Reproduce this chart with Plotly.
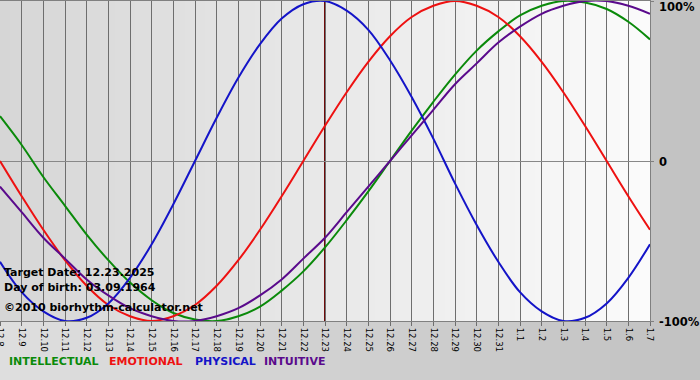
import plotly.graph_objects as go

# ---- data ----
dates = ["12.8", "12.9", "12.10", "12.11", "12.12", "12.13", "12.14", "12.15",
         "12.16", "12.17", "12.18", "12.19", "12.20", "12.21", "12.22", "12.23",
         "12.24", "12.25", "12.26", "12.27", "12.28", "12.29", "12.30", "12.31",
         "1.1", "1.2", "1.3", "1.4", "1.5", "1.6", "1.7"]

intellectual = [0.28, 0.10, -0.10, -0.28, -0.46, -0.62, -0.76, -0.87, -0.95, -0.99,
                -1.00, -0.97, -0.91, -0.81, -0.69, -0.54, -0.37, -0.19, 0.00, 0.19,
                0.37, 0.54, 0.69, 0.81, 0.91, 0.97, 1.00, 0.99, 0.95, 0.87, 0.76]

emotional = [0.00, -0.22, -0.43, -0.62, -0.78, -0.90, -0.97, -1.00, -0.97, -0.90,
             -0.78, -0.62, -0.43, -0.22, 0.00, 0.22, 0.43, 0.62, 0.78, 0.90,
             0.97, 1.00, 0.97, 0.90, 0.78, 0.62, 0.43, 0.22, 0.00, -0.22, -0.43]

physical = [-0.63, -0.82, -0.94, -1.00, -0.98, -0.89, -0.73, -0.52, -0.27, 0.00,
            0.27, 0.52, 0.73, 0.89, 0.98, 1.00, 0.94, 0.82, 0.63, 0.40,
            0.14, -0.14, -0.40, -0.63, -0.82, -0.94, -1.00, -0.98, -0.89, -0.73, -0.52]

intuitive = [-0.16, -0.32, -0.48, -0.61, -0.74, -0.84, -0.92, -0.97, -1.00, -1.00,
             -0.97, -0.92, -0.84, -0.74, -0.61, -0.48, -0.32, -0.16, 0.00, 0.16,
             0.32, 0.48, 0.61, 0.74, 0.84, 0.92, 0.97, 1.00, 1.00, 0.97, 0.92]

series_names = ["INTELLECTUAL", "EMOTIONAL", "PHYSICAL", "INTUITIVE"]
series_colors = ["#0a8a0a", "#ee1111", "#1414c8", "#5a0a8c"]
target_label = "12.23"
info_lines = ["Target Date: 12.23.2025", "Day of birth: 03.09.1964",
              "\u00a92010 biorhythm-calculator.net"]
y_labels = ["100%", "0", "-100%"]
y_label_vals = [1, 0, -1]

# ---- layout geometry ----
W_FIG, H_FIG = 700, 380
ML, MR, MT, MB = 0, 50, 1, 59
PW = W_FIG - ML - MR
PH = H_FIG - MT - MB


def px_to_paper_x(px):
    return (px - ML) / PW


def px_to_paper_y(py):
    return (H_FIG - MB - py) / PH


fig = go.Figure()
for name, vals, col in zip(series_names, [intellectual, emotional, physical, intuitive], series_colors):
    fig.add_trace(go.Scatter(x=dates, y=vals, mode="lines", name=name,
                             line=dict(color=col, width=2, shape="spline", smoothing=1.0),
                             hoverinfo="skip"))

shapes = []
# figure background gradient (horizontal)
n_paper = 70
for i in range(n_paper):
    g = round(222 - (222 - 194) * i / (n_paper - 1))
    c = f"rgb({g},{g},{g})"
    x0 = px_to_paper_x(i * W_FIG / n_paper)
    x1 = px_to_paper_x((i + 1) * W_FIG / n_paper + 0.5)
    shapes.append(dict(type="rect", xref="paper", yref="paper", x0=x0, x1=x1,
                       y0=px_to_paper_y(H_FIG), y1=px_to_paper_y(0),
                       fillcolor=c, line=dict(width=0), layer="below"))
# plot area gradient
n_plot = 130
for i in range(n_plot):
    g = round(214 + (251 - 214) * i / (n_plot - 1))
    c = f"rgb({g},{g},{g})"
    shapes.append(dict(type="rect", xref="paper", yref="paper",
                       x0=i / n_plot, x1=min(1, (i + 1.2) / n_plot), y0=0, y1=1,
                       fillcolor=c, line=dict(width=0), layer="below"))
# target date marker
ti = dates.index(target_label)
shapes.append(dict(type="line", xref="x", yref="paper", x0=ti, x1=ti, y0=0, y1=1,
                   line=dict(color="#6e0a0a", width=2), layer="between"))

annotations = []
info_y = [272, 287, 307]
for txt, py in zip(info_lines, info_y):
    annotations.append(dict(text=txt, xref="paper", yref="paper",
                            x=px_to_paper_x(2), y=px_to_paper_y(py),
                            xanchor="left", yanchor="middle", showarrow=False,
                            font=dict(family="DejaVu Sans", size=11, color="#000000",
                                      weight="bold")))
legend_x = [7, 107, 193, 262]
for name, col, lx in zip(series_names, series_colors, legend_x):
    annotations.append(dict(text=name, xref="paper", yref="paper",
                            x=px_to_paper_x(lx), y=px_to_paper_y(361),
                            xanchor="left", yanchor="middle", showarrow=False,
                            font=dict(family="DejaVu Sans", size=11, color=col,
                                      weight="bold")))
y_label_py = [7, 162, 322]
for lab, py in zip(y_labels, y_label_py):
    annotations.append(dict(text=lab, xref="paper", yref="paper",
                            x=px_to_paper_x(657), y=px_to_paper_y(py),
                            xanchor="left", yanchor="middle", showarrow=False,
                            font=dict(family="DejaVu Sans", size=11.5, color="#000000",
                                      weight="bold")))

fig.update_layout(
    template="none",
    width=W_FIG, height=H_FIG,
    margin=dict(l=ML, r=MR, t=MT, b=MB, pad=0, autoexpand=False),
    paper_bgcolor="#d0d0d0", plot_bgcolor="rgba(0,0,0,0)",
    showlegend=False,
    shapes=shapes, annotations=annotations,
    xaxis=dict(type="category", range=[0, len(dates) - 1], showgrid=True,
               gridcolor="#6e6e6e", gridwidth=1, ticks="outside", ticklen=4,
               tickcolor="#6e6e6e", tickangle=90, automargin=False,
               tickfont=dict(family="DejaVu Sans", size=8.5, color="#000000"),
               showline=True, linecolor="#808080", linewidth=1, mirror=True,
               zeroline=False, fixedrange=True),
    yaxis=dict(range=[-1, 1], side="right", showgrid=False, automargin=False,
               zeroline=True, zerolinecolor="#888888", zerolinewidth=1,
               tickvals=y_label_vals, ticks="outside", ticklen=3, tickcolor="#808080",
               showticklabels=False,
               showline=True, linecolor="#808080", linewidth=1, mirror=True,
               fixedrange=True),
)

fig.write_html("out.html", config={"displayModeBar": False},
               post_script="document.body.style.margin='0px';document.body.style.overflow='hidden';")
